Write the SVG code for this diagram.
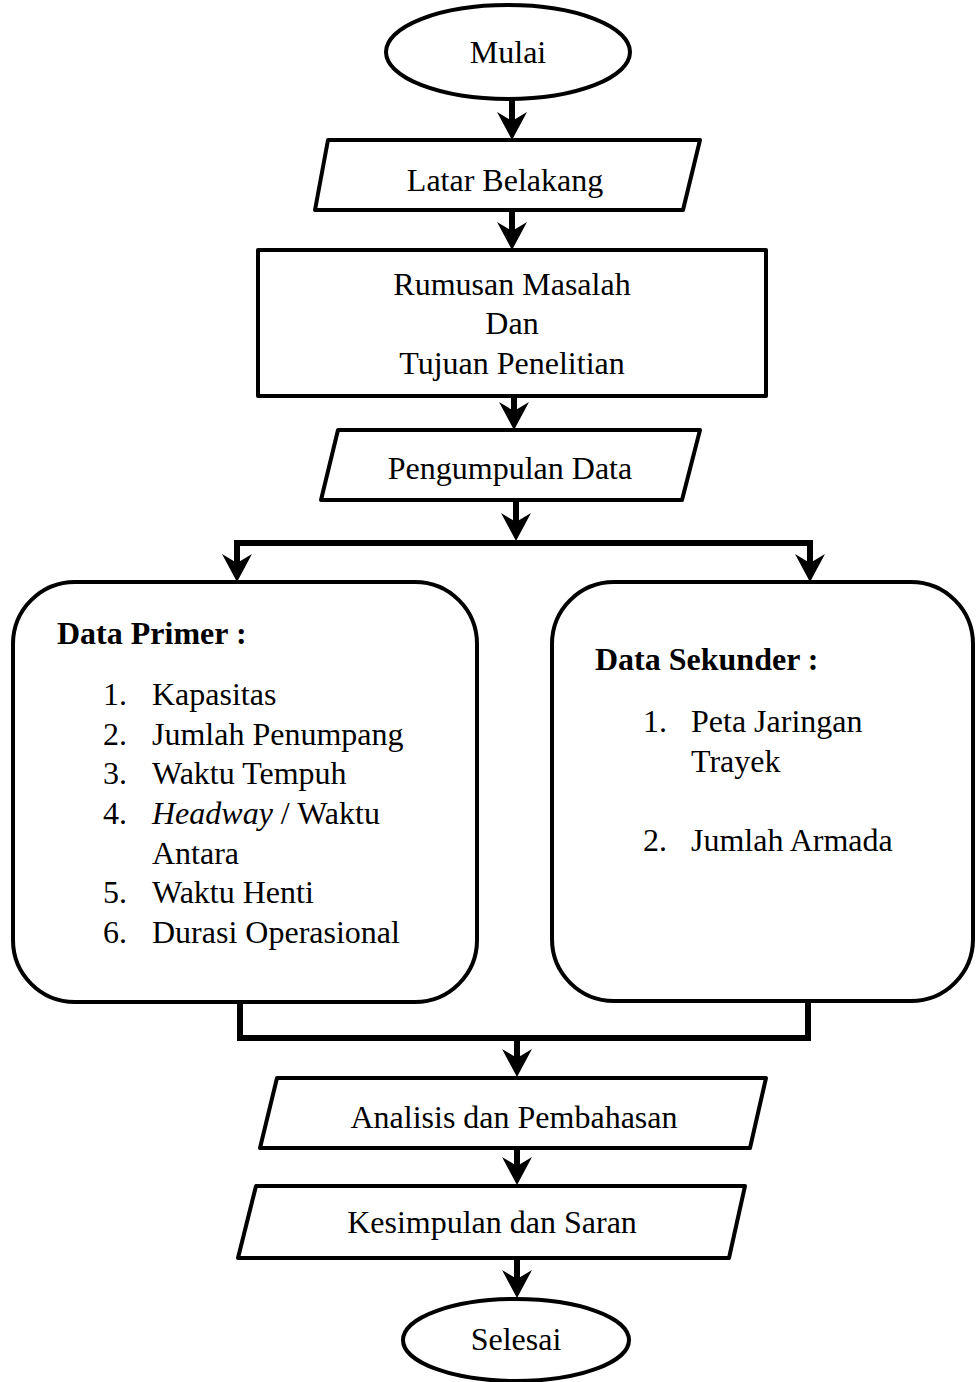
<svg xmlns="http://www.w3.org/2000/svg" xmlns:xlink="http://www.w3.org/1999/xlink" width="976" height="1382" viewBox="0 0 976 1382">
<style>
.shape{fill:#fff;stroke:#000;stroke-width:4;stroke-linejoin:round}
.t{font-family:"Liberation Serif","Times New Roman",serif;font-size:32px;fill:#000}
.c{text-anchor:middle}
.b{font-weight:bold}
.conn{stroke:#000;stroke-width:6;fill:none;stroke-linecap:butt}
</style>
<defs>
<path id="ah" d="M0,0 L-15,-28 L0,-19 L15,-28 Z" fill="#000"/>
</defs>
<rect width="976" height="1382" fill="#fff"/>

<g id="connectors">
<line class="conn" x1="512" y1="100" x2="512" y2="125"/>
<use xlink:href="#ah" x="512" y="140"/>
<line class="conn" x1="512" y1="210" x2="512" y2="235"/>
<use xlink:href="#ah" x="512" y="250"/>
<line class="conn" x1="514" y1="396" x2="514" y2="415"/>
<use xlink:href="#ah" x="514" y="430"/>
<line class="conn" x1="516" y1="500" x2="516" y2="526"/>
<use xlink:href="#ah" x="516" y="541"/>
<path class="conn" d="M237,570 V543 H810 V570" stroke-width="7" stroke-linejoin="miter"/>
<use xlink:href="#ah" x="237" y="582"/>
<use xlink:href="#ah" x="810" y="582"/>
<path class="conn" d="M240,1000 V1038 H808 V1000" stroke-width="7" stroke-linejoin="miter"/>
<line class="conn" x1="517" y1="1038" x2="517" y2="1062"/>
<use xlink:href="#ah" x="517" y="1077"/>
<line class="conn" x1="517" y1="1148" x2="517" y2="1170"/>
<use xlink:href="#ah" x="517" y="1185"/>
<line class="conn" x1="517" y1="1258" x2="517" y2="1283"/>
<use xlink:href="#ah" x="517" y="1298"/>
</g>

<g id="mulai">
<ellipse class="shape" cx="508" cy="52" rx="122" ry="47"/>
<text class="t c" x="508" y="63">Mulai</text>
</g>

<g id="latar-belakang">
<polygon class="shape" points="328,140 700,140 683,210 315,210"/>
<text class="t c" x="505" y="191">Latar Belakang</text>
</g>

<g id="rumusan-masalah">
<rect class="shape" x="258" y="250" width="508" height="146"/>
<text class="t c" x="512" y="295">Rumusan Masalah</text>
<text class="t c" x="512" y="334">Dan</text>
<text class="t c" x="512" y="374">Tujuan Penelitian</text>
</g>

<g id="pengumpulan-data">
<polygon class="shape" points="338,430 700,430 682,500 321,500"/>
<text class="t c" x="510" y="479">Pengumpulan Data</text>
</g>

<g id="data-primer">
<rect class="shape" x="13" y="582" width="464" height="420" rx="62" ry="62"/>
<text class="t b" x="57" y="644">Data Primer :</text>
<text class="t" x="103" y="705">1.</text><text class="t" x="152" y="705">Kapasitas</text>
<text class="t" x="103" y="745">2.</text><text class="t" x="152" y="745">Jumlah Penumpang</text>
<text class="t" x="103" y="784">3.</text><text class="t" x="152" y="784">Waktu Tempuh</text>
<text class="t" x="103" y="824">4.</text><text class="t" x="152" y="824"><tspan font-style="italic">Headway</tspan> / Waktu</text>
<text class="t" x="152" y="864">Antara</text>
<text class="t" x="103" y="903">5.</text><text class="t" x="152" y="903">Waktu Henti</text>
<text class="t" x="103" y="943">6.</text><text class="t" x="152" y="943">Durasi Operasional</text>
</g>

<g id="data-sekunder">
<rect class="shape" x="552" y="582" width="421" height="419" rx="62" ry="62"/>
<text class="t b" x="595" y="670">Data Sekunder :</text>
<text class="t" x="643" y="732">1.</text><text class="t" x="691" y="732">Peta Jaringan</text>
<text class="t" x="691" y="772">Trayek</text>
<text class="t" x="643" y="851">2.</text><text class="t" x="691" y="851">Jumlah Armada</text>
</g>

<g id="analisis">
<polygon class="shape" points="277,1078 766,1078 750,1148 260,1148"/>
<text class="t c" x="514" y="1128">Analisis dan Pembahasan</text>
</g>

<g id="kesimpulan">
<polygon class="shape" points="256,1186 745,1186 729,1258 238,1258"/>
<text class="t c" x="492" y="1233">Kesimpulan dan Saran</text>
</g>

<g id="selesai">
<ellipse class="shape" cx="516" cy="1340" rx="113" ry="41"/>
<text class="t c" x="516" y="1350">Selesai</text>
</g>
</svg>
